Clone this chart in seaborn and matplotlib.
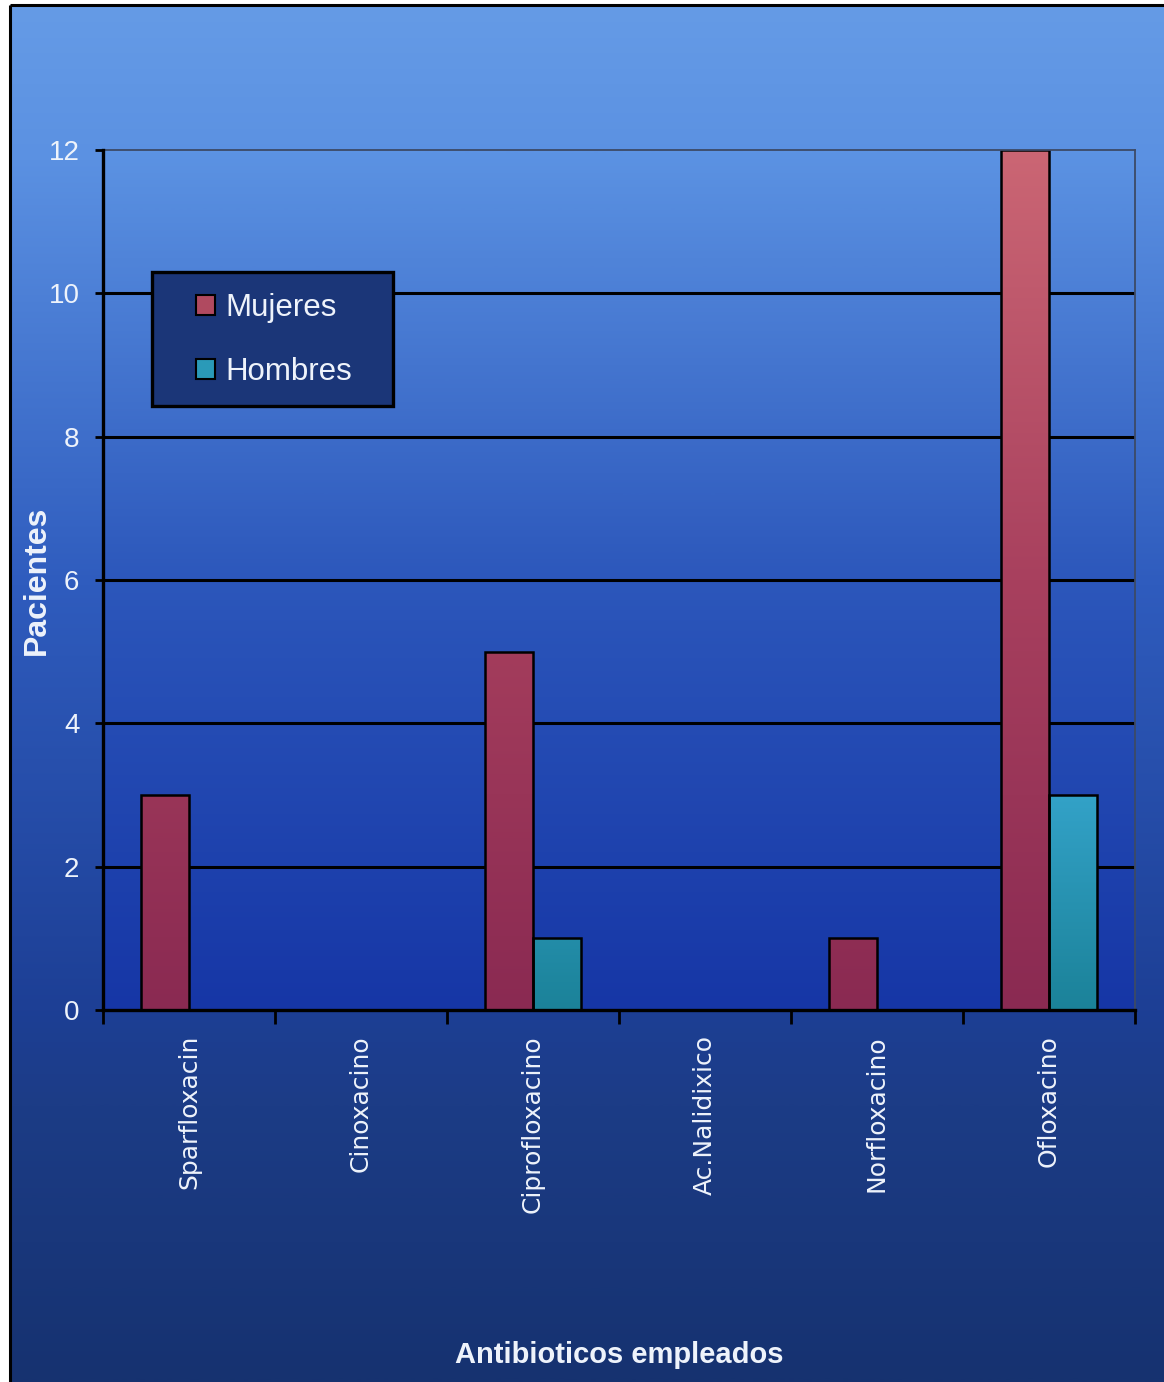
import numpy as np
import pandas as pd
import matplotlib
matplotlib.use("Agg")
import matplotlib.pyplot as plt
from matplotlib.colors import LinearSegmentedColormap
from matplotlib.patches import Rectangle, Patch
import seaborn as sns

# ---- data ----
antibioticos = ["Sparfloxacin", "Cinoxacino", "Ciprofloxacino",
                "Ac.Nalidixico", "Norfloxacino", "Ofloxacino"]
mujeres = [3, 0, 5, 0, 1, 12]
hombres = [0, 0, 1, 0, 0, 3]
series = ["Mujeres", "Hombres"]
yticks = [0, 2, 4, 6, 8, 10, 12]

df = pd.DataFrame({
    "Antibiotico": antibioticos * 2,
    "Sexo": [series[0]] * len(antibioticos) + [series[1]] * len(antibioticos),
    "Pacientes": mujeres + hombres,
})

sns.set_theme(style="white")
plt.rcParams["font.family"] = ["Liberation Sans", "DejaVu Sans"]

W, H = 1164, 1382
fig = plt.figure(figsize=(W / 100, H / 100), dpi=100)
fig.patch.set_facecolor("white")

# ---- figure background gradient and frame ----
bg = fig.add_axes([0, 0, 1, 1], zorder=-10)
bg.axis("off")
bg_cmap = LinearSegmentedColormap.from_list(
    "bg", [(0.0, "#659be6"), (0.11, "#5b91e2"), (0.42, "#2f5cbe"),
           (0.73, "#1d3f95"), (0.80, "#1c3c86"), (1.0, "#163270")])
grad = np.linspace(0, 1, 512).reshape(-1, 1)
bg.imshow(grad, cmap=bg_cmap, aspect="auto", extent=(10, W, H, 5),
          origin="upper", interpolation="bilinear")
bg.plot([10, 10], [H, 5], color="black", lw=2.2, solid_capstyle="butt")
bg.plot([10, W], [5, 5], color="black", lw=2.2, solid_capstyle="butt")
bg.set_xlim(0, W)
bg.set_ylim(H, 0)

# ---- main axes ----
ax = fig.add_axes([103 / W, 1 - 1010 / H, 1032 / W, 860 / H])
sns.barplot(data=df, x="Antibiotico", y="Pacientes", hue="Sexo",
            order=antibioticos, hue_order=series,
            palette=["#a8405e", "#2590ad"], saturation=1,
            width=0.56, edgecolor="black", linewidth=1.8,
            legend=False, ax=ax)

# plot-area gradient
plot_cmap = LinearSegmentedColormap.from_list(
    "plot", [(0.0, "#5c93e3"), (0.5, "#2c57bb"), (1.0, "#1636a6")])
ax.imshow(grad, cmap=plot_cmap, aspect="auto", extent=(-0.5, 5.5, 0, 12),
          origin="upper", zorder=0, interpolation="bilinear")

# shaded bar fills clipped to each bar
bar_cmaps = [
    LinearSegmentedColormap.from_list(
        "muj", [(0.0, "#cb6674"), (0.5, "#a8405e"), (1.0, "#8a2a52")]),
    LinearSegmentedColormap.from_list(
        "hom", [(0.0, "#52c0e6"), (0.75, "#33a2c8"), (1.0, "#1b8299")]),
]
for container, cmap in zip(ax.containers, bar_cmaps):
    for bar in container:
        im = ax.imshow(grad, cmap=cmap, aspect="auto",
                       extent=(-0.5, 5.5, 0, 12), origin="upper",
                       zorder=1.6, interpolation="bilinear")
        im.set_clip_path(bar)
        bar.set_facecolor("none")
        bar.set_zorder(2)

ax.set_xlim(-0.5, 5.5)
ax.set_ylim(0, 12)

# grid
ax.set_axisbelow(True)
ax.set_yticks(yticks)
ax.yaxis.grid(True, color="black", lw=2.2)
ax.get_ygridlines()[-1].set_visible(False)
ax.get_ygridlines()[0].set_visible(False)

# spines
for side in ["left", "bottom"]:
    ax.spines[side].set_color("black")
    ax.spines[side].set_linewidth(2.4)
    ax.spines[side].set_zorder(3)
for side in ["top", "right"]:
    ax.spines[side].set_color("#3c4a66")
    ax.spines[side].set_linewidth(1.3)

# ticks
ax.tick_params(axis="y", direction="out", left=True, length=6, width=2,
               color="black", pad=11, labelsize=20, labelcolor="#eef3fb")
ax.set_xticks(np.arange(-0.5, len(antibioticos) + 0.5, 1))
ax.set_xticks(np.arange(len(antibioticos)), minor=True)
ax.set_xticklabels([], minor=False)
ax.set_xticklabels(antibioticos, minor=True, rotation=90,
                   fontfamily="DejaVu Sans")
ax.tick_params(axis="x", which="major", direction="out", bottom=True,
               length=10, width=2, color="black", labelbottom=False)
ax.tick_params(axis="x", which="minor", bottom=True, length=0, pad=18,
               labelsize=18, labelcolor="#eef3fb")

# axis labels
ax.set_ylabel("Pacientes", fontsize=23, fontweight="bold", color="#eef3fb",
              va="center")
ax.yaxis.set_label_coords(-0.064, 0.5)
ax.set_xlabel("Antibioticos empleados", fontsize=21, fontweight="bold",
              color="#eef3fb", va="center")
ax.xaxis.set_label_coords(0.5, -0.401)

# legend box
box = Rectangle((0.0475, 0.702), 0.2335, 0.156, transform=ax.transAxes,
                facecolor="#1b3678", edgecolor="black", lw=2.4, zorder=4)
ax.add_patch(box)
handles = [Patch(facecolor="#b04a60", edgecolor="black", lw=1.5),
           Patch(facecolor="#2a9ab8", edgecolor="black", lw=1.5)]
leg = ax.legend(handles, series, loc="center", bbox_to_anchor=(0.166, 0.779),
                frameon=False, fontsize=22.5, handlelength=0.6,
                handleheight=0.6, handletextpad=0.35, labelspacing=1.1,
                labelcolor="#eef3fb")
leg.set_zorder(5)

fig.savefig("out.png", dpi=100)
